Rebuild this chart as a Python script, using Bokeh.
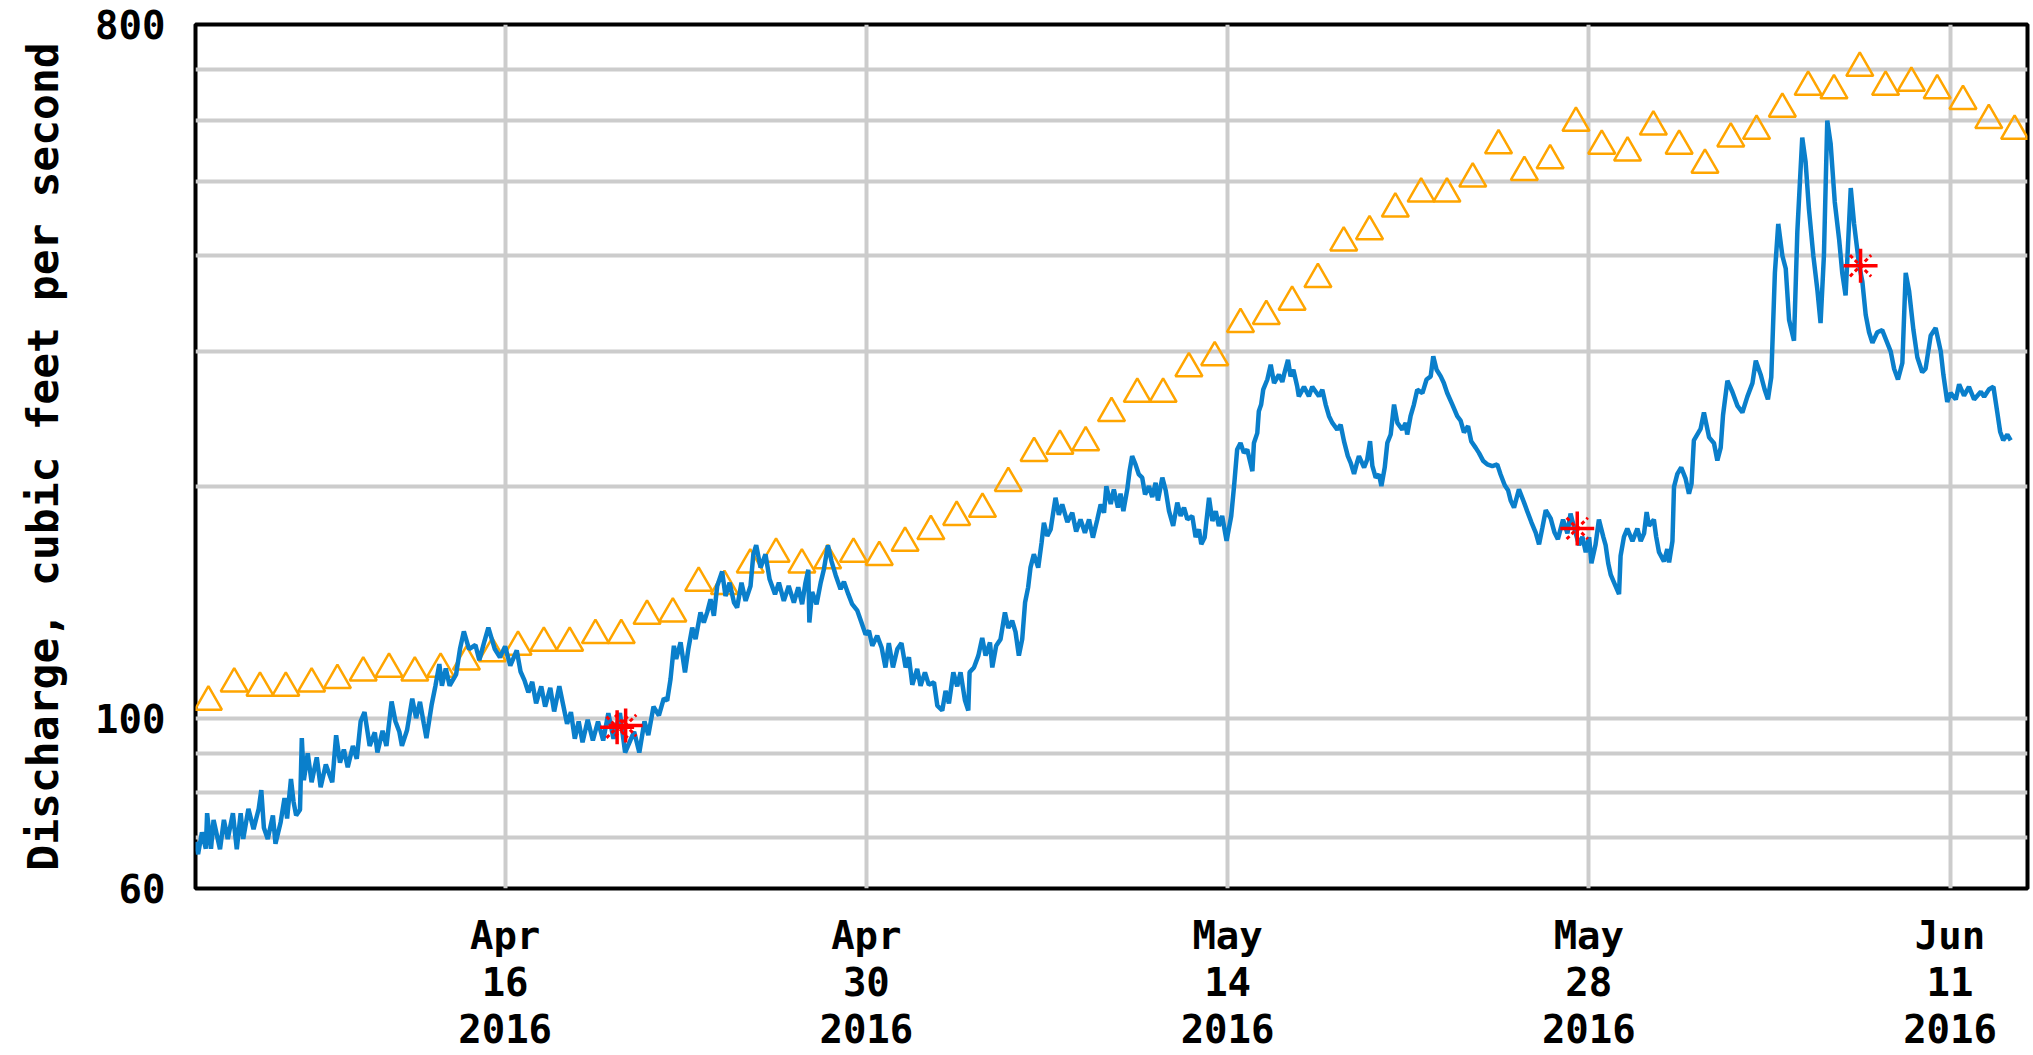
import datetime as dt
from bokeh.plotting import figure
from bokeh.models import FixedTicker, Range1d, DatetimeTickFormatter, BasicTickFormatter
from bokeh.embed import file_html
from bokeh.resources import INLINE

START = dt.datetime(2016, 4, 4)
END = dt.datetime(2016, 6, 14)

# Instantaneous discharge: days after START, cubic feet per second
flow_day = [
    0.00, 0.10, 0.25, 0.40, 0.45, 0.60, 0.70, 0.95, 1.10, 1.25, 1.45, 1.60, 1.75, 1.85, 2.05, 2.25,
    2.45, 2.55, 2.65, 2.80, 3.00, 3.10, 3.30, 3.45, 3.55, 3.70, 3.80, 3.90, 4.05, 4.12, 4.20, 4.35,
    4.50, 4.70, 4.85, 5.05, 5.30, 5.45, 5.60, 5.75, 5.90, 6.10, 6.25, 6.40, 6.55, 6.75, 6.95, 7.05,
    7.25, 7.40, 7.60, 7.75, 7.90, 8.00, 8.20, 8.40, 8.55, 8.70, 8.85, 8.95, 9.15, 9.30, 9.45, 9.55,
    9.70, 9.85, 10.10, 10.25, 10.40, 10.60, 10.85, 11.00, 11.20, 11.35, 11.60, 11.80, 12.00, 12.20,
    12.45, 12.60, 12.75, 12.90, 13.05, 13.20, 13.40, 13.55, 13.75, 13.90, 14.10, 14.25, 14.40, 14.55,
    14.70, 14.85, 15.00, 15.20, 15.40, 15.60, 15.80, 16.00, 16.20, 16.45, 16.65, 16.85, 17.00, 17.20,
    17.40, 17.55, 17.75,
    17.96, 18.15, 18.28, 18.41, 18.54, 18.63, 18.80, 18.97, 19.10, 19.25, 19.38, 19.57, 19.70, 19.83,
    19.96, 20.09, 20.22, 20.41, 20.54, 20.70, 20.87, 20.99, 21.16, 21.32, 21.51, 21.62, 21.73, 21.90,
    22.09, 22.25, 22.46, 22.61, 22.80, 22.99, 23.19, 23.36, 23.51, 23.64, 23.75, 23.79, 23.90, 24.07,
    24.23, 24.35, 24.51, 24.65, 24.81, 25.00, 25.13, 25.30, 25.45, 25.65, 25.81, 25.97, 26.10, 26.23,
    26.42, 26.59, 26.74, 26.87, 27.03, 27.20, 27.36, 27.52, 27.65, 27.78, 27.97, 28.10, 28.27, 28.42,
    28.62, 28.75, 28.94, 29.07, 29.20, 29.37, 29.52, 29.65, 29.82, 29.95, 30.00, 30.17, 30.34, 30.49,
    30.62, 30.79, 30.88, 31.03, 31.20, 31.37, 31.50, 31.65, 31.78, 31.91, 32.04, 32.15, 32.27, 32.36,
    32.49, 32.66, 32.79, 32.88, 33.01, 33.14, 33.33, 33.46, 33.59, 33.79, 33.98, 34.13, 34.30, 34.47,
    34.63, 34.78, 34.95, 35.08, 35.21, 35.30, 35.47, 35.59,
    35.75, 35.85, 35.96, 36.11, 36.20, 36.30, 36.43, 36.56, 36.69, 36.80, 36.95, 37.08, 37.21, 37.30,
    37.47, 37.60, 37.73, 37.89, 38.05, 38.18, 38.31, 38.44, 38.63, 38.76, 38.89, 38.98, 39.11, 39.28,
    39.41, 39.54, 39.66, 39.79, 39.96, 40.14, 40.25, 40.37, 40.50, 40.63, 40.76, 40.96, 41.02, 41.15,
    41.21, 41.30, 41.38, 41.54, 41.67, 41.80, 41.99, 42.12, 42.21, 42.34, 42.44, 42.55, 42.70, 42.76,
    42.96, 43.15, 43.28, 43.54, 43.67, 43.80, 43.93, 44.06, 44.25, 44.38, 44.51, 44.66, 44.77, 44.90,
    45.03, 45.09, 45.29, 45.41, 45.52, 45.61, 45.74, 45.87, 45.96, 46.09, 46.19, 46.32, 46.45, 46.58,
    46.77, 46.90, 46.96, 47.09, 47.22, 47.35, 47.55, 47.71, 47.87, 47.97, 48.10, 48.26, 48.38, 48.51,
    48.71, 48.90, 49.03, 49.16, 49.32, 49.44, 49.61, 49.74, 49.91, 50.06, 50.26, 50.45, 50.58, 50.74,
    50.87, 50.97, 51.10, 51.29, 51.49, 51.61, 51.77, 51.94, 52.07, 52.20, 52.33, 52.52, 52.67, 52.80,
    53.00, 53.17, 53.29, 53.45, 53.62, 53.75, 53.88, 54.01, 54.10, 54.26, 54.39, 54.56, 54.65, 54.75,
    54.85, 55.04, 55.17, 55.23, 55.36, 55.49, 55.69, 55.88, 56.01, 56.14, 56.24, 56.33, 56.52, 56.61,
    56.72, 56.91, 57.04, 57.11, 57.24, 57.30, 57.43, 57.58, 57.75, 57.88, 57.98, 58.07, 58.33, 58.46,
    58.66, 58.85, 58.98, 59.11, 59.20, 59.37, 59.56, 59.76, 59.95, 60.14, 60.34, 60.47, 60.66, 60.81,
    60.94, 61.07, 61.21, 61.34, 61.50, 61.63, 61.76, 61.95, 62.08, 62.27, 62.40, 62.53, 62.70, 62.86,
    62.98, 63.11, 63.24, 63.37, 63.53, 63.70, 63.82, 63.95, 64.15, 64.28, 64.47, 64.60, 64.73, 64.86,
    64.99, 65.18, 65.37, 65.50, 65.70, 65.83, 65.98, 66.15, 66.28, 66.41, 66.58, 66.73, 66.92, 67.05,
    67.25, 67.44, 67.64, 67.74, 67.89, 68.02, 68.22, 68.35, 68.54, 68.73, 68.93, 69.19, 69.32, 69.51,
    69.68, 69.83, 69.94, 70.06, 70.22, 70.35,
]
flow_cfs = [
    69.0, 66.5, 71.0, 67.6, 75.2, 67.6, 73.7, 67.5, 73.7, 69.6, 75.2, 67.5, 75.2, 69.6, 76.2, 71.7,
    76.2, 80.6, 72.0, 69.6, 74.7, 68.6, 73.2, 78.7, 74.0, 83.3, 77.8, 74.7, 76.0, 94.2, 83.0, 90.0,
    82.5, 88.9, 81.3, 87.0, 82.5, 95.0, 87.5, 91.0, 86.3, 92.0, 88.5, 99.0, 101.8, 92.0, 95.8, 90.2,
    96.3, 92.0, 105.1, 99.0, 96.0, 92.0, 96.5, 106.0, 100.0, 105.0, 98.3, 94.2, 104.0, 110.2, 117.6, 110.2,
    116.0, 110.2, 114.0, 123.0, 129.7, 123.0, 124.5, 119.0, 126.0, 131.2, 123.0, 120.0, 124.0, 117.0,
    122.5, 114.9, 112.0, 108.0, 111.5, 104.5, 110.0, 103.5, 109.5, 102.0, 110.0, 104.0, 98.3, 101.8,
    94.0, 99.0, 93.0, 99.5, 93.5, 99.0, 93.5, 101.5, 94.0, 101.5, 90.2, 93.5, 96.0, 90.2,
    99.0, 95.0, 103.5,
    100.8, 106.1, 105.4, 112.4, 124.2, 119.4, 125.5, 114.7, 123.0, 131.2, 126.7, 137.3, 133.2, 137.3,
    142.8, 135.9, 148.6, 155.2, 144.2, 150.1, 141.4, 139.3, 150.1, 142.1, 148.6, 163.4, 167.9, 157.0,
    163.4, 151.6, 145.0, 150.1, 142.1, 148.6, 141.4, 148.0, 140.7, 150.1, 156.0, 133.2, 146.0, 140.7,
    150.1, 156.0, 167.9, 160.0, 153.5, 147.2, 150.5, 145.0, 140.7, 138.0, 133.2, 128.5, 129.9, 124.2,
    128.0, 123.6, 116.4, 125.2, 116.4, 123.0, 125.2, 116.4, 120.0, 110.5, 115.9, 110.2, 114.7, 110.5,
    111.3, 103.8, 102.3, 108.5, 104.5, 114.7, 110.0, 114.7, 105.5, 102.3, 114.7, 116.4, 120.6, 127.2,
    120.6, 125.5, 116.4, 124.2, 126.7, 137.3, 131.0, 133.9, 129.5, 120.6, 126.7, 141.4, 148.0, 157.0,
    163.4, 157.0, 169.2, 179.6, 172.6, 176.0, 193.6, 184.0, 189.8, 180.0, 185.1, 175.0, 181.4, 174.3,
    181.4, 171.8, 181.4, 189.8, 185.1, 200.4, 190.0, 198.5,
    188.0, 196.0, 186.0, 198.5, 209.7, 219.3, 214.0, 207.6, 205.6, 195.5, 200.5, 194.0, 202.5, 192.0,
    205.6, 198.0, 186.0, 177.9, 190.8, 183.3, 188.0, 181.4, 183.3, 172.0, 176.1, 168.4, 171.8, 193.6,
    180.6, 186.0, 177.9, 183.3, 170.1, 183.3, 200.5, 223.7, 228.2, 221.5, 223.7, 209.7, 228.2, 235.0,
    250.9, 256.0, 267.7, 276.0, 288.5, 273.1, 280.0, 274.0, 282.0, 292.8, 278.6, 284.2, 270.0, 262.4,
    270.0, 262.4, 270.0, 262.4, 267.7, 256.0, 247.2, 242.3, 237.5, 241.0, 229.4, 219.3, 215.0, 208.0,
    216.1, 219.3, 212.0, 217.0, 229.4, 213.0, 205.6, 207.6, 200.5, 212.0, 228.2, 234.0, 256.0, 242.3,
    237.5, 242.3, 234.0, 247.2, 256.0, 267.7, 265.0, 276.0, 278.6, 295.8, 284.2, 278.6, 273.1, 265.0,
    256.0, 247.2, 244.0, 235.5, 240.0, 229.4, 225.0, 221.5, 216.1, 214.0, 212.8, 214.0, 207.6, 201.0,
    198.0, 192.0, 188.0, 198.5, 190.8, 186.0, 180.0, 174.4, 168.4, 177.0, 186.5, 182.0, 174.4, 171.0,
    181.3, 174.0, 184.6, 176.0, 168.0, 172.2, 164.4, 172.0, 159.1, 168.3, 181.3, 172.2, 168.0, 159.1,
    153.6, 148.4, 145.0, 162.6, 172.2, 176.5, 170.0, 176.5, 170.0, 174.0, 185.5, 178.0, 181.3, 172.2,
    164.4, 160.0, 166.0, 159.5, 170.0, 200.0, 208.0, 212.0, 205.0, 196.0, 202.0, 230.0, 238.0, 250.0,
    232.0, 228.0, 216.5, 225.0, 248.0, 275.0, 266.0, 255.0, 250.0, 262.0, 273.0, 292.0, 280.0, 268.0,
    260.0, 278.0, 380.0, 440.0, 400.0, 385.0, 330.0, 310.0, 430.0, 570.0, 530.0, 460.0, 400.0, 360.0,
    326.9, 400.0, 600.0, 560.0, 470.0, 420.0, 380.0, 355.0, 490.0, 440.0, 390.0, 370.0, 335.0, 318.0,
    308.0, 318.0, 320.0, 312.0, 300.0, 285.0, 276.0, 290.0, 380.0, 360.0, 320.0, 295.0, 282.0, 285.0,
    315.0, 322.0, 300.0, 280.0, 258.0, 265.0, 260.0, 272.0, 263.0, 270.0, 260.0, 266.0, 262.0, 268.0,
    270.0, 250.0, 236.0, 230.0, 234.0, 230.0,
]

# Daily median discharge (one value per day, plotted at noon)
median_day = [d + 0.5 for d in range(71)]
median_cfs = [
    105.0, 110.9, 109.5, 109.5, 110.9, 112.0, 114.6, 115.9, 114.6, 115.9,
    118.4, 121.4, 123.8, 125.3, 125.3, 128.2, 128.2, 135.8, 136.8, 150.0,
    148.5, 158.4, 163.6, 158.4, 160.4, 163.6, 162.0, 169.1, 175.1, 182.7,
    187.2, 202.3, 221.3, 226.2, 228.5, 249.4, 264.2, 264.2, 285.3, 294.9,
    325.8, 333.7, 348.3, 372.7, 416.0, 430.3, 460.5, 481.6, 481.6, 503.7,
    556.5, 513.9, 532.1, 595.5, 556.0, 544.6, 588.7, 556.0, 525.1, 568.2,
    581.4, 621.2, 663.2, 656.4, 702.2, 663.2, 671.6, 656.4, 635.7, 600.3,
    581.4,
]

# Field measurements
meas_day = [16.34, 16.67, 53.55, 64.53]
meas_cfs = [97.3, 97.8, 176.6, 388.1]

tick_dates = ["2016-04-16", "2016-04-30", "2016-05-14", "2016-05-28", "2016-06-11"]
y_label_ticks = [60, 100, 800]
y_grid_values = [70, 80, 90, 100, 200, 300, 400, 500, 600, 700]
y_axis_title = "Discharge, cubic feet per second"


def to_dt(days):
    return [START + dt.timedelta(days=d) for d in days]


EPOCH = dt.datetime(1970, 1, 1)
tick_ms = [(dt.datetime.strptime(s, "%Y-%m-%d") - EPOCH).total_seconds() * 1000 for s in tick_dates]

FONT = "DejaVu Sans Mono"

p = figure(
    width=2033, height=1055,
    x_axis_type="datetime", y_axis_type="log",
    x_range=Range1d(START, END), y_range=Range1d(60, 800),
    output_backend="svg", toolbar_location=None,
    min_border_left=195, min_border_right=6, min_border_top=24, min_border_bottom=165,
    background_fill_color="white", border_fill_color="white",
)

p.outline_line_color = "black"
p.outline_line_width = 4

# grids
p.xgrid.ticker = FixedTicker(ticks=tick_ms)
p.ygrid.ticker = FixedTicker(ticks=y_grid_values)
p.xgrid.grid_line_color = "#CCCCCC"
p.ygrid.grid_line_color = "#CCCCCC"
p.xgrid.grid_line_width = 4
p.ygrid.grid_line_width = 4

# x axis
p.xaxis.ticker = FixedTicker(ticks=tick_ms)
fmt = "%b\n%d\n%Y"
p.xaxis.formatter = DatetimeTickFormatter(
    milliseconds=fmt, seconds=fmt, minsec=fmt, minutes=fmt, hourmin=fmt, hours=fmt,
    days=fmt, months=fmt, years=fmt,
)
p.xaxis.axis_line_color = None
p.xaxis.major_tick_line_color = None
p.xaxis.minor_tick_line_color = None
p.xaxis.major_tick_out = 0
p.xaxis.major_label_standoff = 24
p.xaxis.major_label_text_font = FONT
p.xaxis.major_label_text_font_style = "bold"
p.xaxis.major_label_text_font_size = "39px"
p.xaxis.major_label_text_color = "black"
p.xaxis.major_label_text_line_height = 1.05

# y axis
p.yaxis.ticker = FixedTicker(ticks=y_label_ticks)
p.yaxis.formatter = BasicTickFormatter()
p.yaxis.axis_line_color = None
p.yaxis.major_tick_line_color = None
p.yaxis.minor_tick_line_color = None
p.yaxis.major_tick_out = 0
p.yaxis.major_label_standoff = 30
p.yaxis.major_label_text_font = FONT
p.yaxis.major_label_text_font_style = "bold"
p.yaxis.major_label_text_font_size = "39px"
p.yaxis.major_label_text_color = "black"
p.yaxis.axis_label = y_axis_title
p.yaxis.axis_label_text_font = FONT
p.yaxis.axis_label_text_font_style = "bold"
p.yaxis.axis_label_text_font_size = "43px"
p.yaxis.axis_label_text_color = "black"
p.yaxis.axis_label_standoff = 24

# daily median triangles
p.scatter(to_dt(median_day), median_cfs, marker="triangle", size=27,
          fill_color=None, line_color="#FFA500", line_width=2.5)

# instantaneous discharge
p.line(to_dt(flow_day), flow_cfs, line_color="#0A7FCB", line_width=4.5)

# measurements
meas_x = to_dt(meas_day)
p.scatter(meas_x, meas_cfs, marker="cross", size=34, line_color="#FF0000", line_width=3.5)
p.scatter(meas_x, meas_cfs, marker="x", size=30, line_color="#FF0000", line_width=3,
          line_dash="4 3")

open("out.html", "w").write(file_html(p, INLINE))
